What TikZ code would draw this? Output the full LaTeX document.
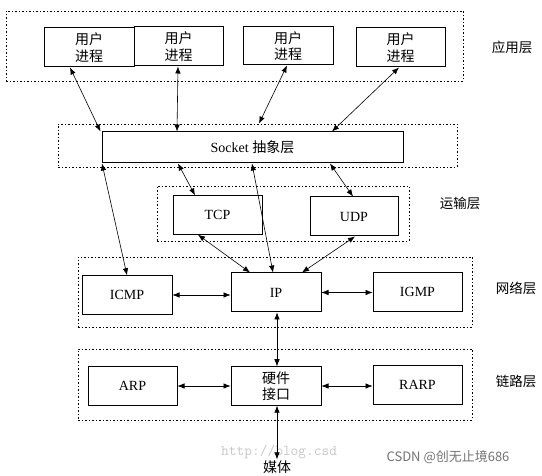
\documentclass[tikz,border=0pt]{standalone}
\usepackage{fontspec}
\setmainfont{Liberation Serif}
\newfontfamily\cjk{Noto Sans CJK SC}
\usetikzlibrary{arrows.meta}
\tikzset{
  boxnode/.style={draw, line width=1pt, minimum width=89pt, minimum height=38.5pt, inner sep=0pt, align=center, font=\fontsize{14}{16.5}\selectfont},
  layerbox/.style={draw, line width=0.9pt, dash pattern=on 1.5pt off 2pt, inner sep=0pt},
  biarrow/.style={line width=0.6pt, {Latex[length=7pt,width=5.5pt]}-{Latex[length=7pt,width=5.5pt]}},
  layerlabel/.style={font=\cjk\fontsize{13.5}{15}\selectfont},
}
\begin{document}
\begin{tikzpicture}[x=1pt,y=-1pt]
\useasboundingbox (0,0) rectangle (542,476);
% layer dotted boxes
\node[layerbox, minimum width=457pt, minimum height=70pt] (appL) at (234.5,46) {};
\node[layerbox, minimum width=399pt, minimum height=43pt] (sockL) at (257.5,145.5) {};
\node[layerbox, minimum width=252pt, minimum height=55pt] (transL) at (283,213.5) {};
\node[layerbox, minimum width=394pt, minimum height=70pt] (netL) at (275,292) {};
\node[layerbox, minimum width=394pt, minimum height=71pt] (linkL) at (275,384.5) {};
% application
\node[boxnode, minimum width=90pt, minimum height=39pt] (u1) at (89,47.5) {\cjk 用户\\\cjk 进程};
\node[boxnode, minimum height=39pt] (u2) at (178.5,46.5) {\cjk 用户\\\cjk 进程};
\node[boxnode, minimum width=90pt, minimum height=38pt] (u3) at (288,46) {\cjk 用户\\\cjk 进程};
\node[boxnode, minimum height=39pt] (u4) at (400.5,47.5) {\cjk 用户\\\cjk 进程};
% socket
\node[boxnode, minimum width=301pt, minimum height=31pt] (socket) at (252.5,147.5) {Socket {\cjk 抽象层}};
% transport
\node[boxnode] (tcp) at (217.5,215) {TCP};
\node[boxnode, minimum width=88pt, minimum height=39pt] (udp) at (354,216.5) {UDP};
% network
\node[boxnode, minimum width=90pt] (icmp) at (127,295) {ICMP};
\node[boxnode, minimum width=90pt, minimum height=39pt] (ip) at (276,292.5) {IP};
\node[boxnode] (igmp) at (417.5,292) {IGMP};
% link
\node[boxnode] (arp) at (132.5,386) {ARP};
\node[boxnode, minimum width=90pt] (hw) at (276,386) {\cjk 硬件\\\cjk 接口};
\node[boxnode] (rarp) at (417.5,385) {RARP};
\node[font=\cjk\fontsize{14}{15}\selectfont, inner sep=1pt] (media) at (277,467) {媒体};
% layer labels
\node[layerlabel] (lapp) at (512,47) {应用层};
\node[layerlabel] (ltrans) at (460,203) {运输层};
\node[layerlabel] (lnet) at (516,288) {网络层};
\node[layerlabel] (llink) at (516,381) {链路层};
% watermark
\node[font=\ttfamily\fontsize{15}{15}\selectfont, text=black!22, anchor=west, inner sep=0pt] (wm1) at (221,452) {http://blog.csd};
\node[font=\cjk\fontsize{13}{15}\selectfont, text=black!55, inner sep=0pt] (wm2) at (448,457) {CSDN @创无止境686};
% connectors
\draw[biarrow] ([xshift=-19pt]u1.south) -- ([xshift=-152pt]socket.north);
\draw[biarrow] ([xshift=-0.5pt]u2.south) -- ([xshift=-75.5pt]socket.north);
\draw[biarrow] ([xshift=-1pt]u3.south) -- ([xshift=1.5pt]sockL.north);
\draw[biarrow] ([xshift=-1.5pt]u4.south) -- ([xshift=79.5pt]socket.north);
\draw[biarrow] ([xshift=-74.5pt]socket.south) -- ([xshift=-22.5pt]tcp.north);
\draw[biarrow] ([xshift=77.5pt]socket.south) -- ([xshift=-1pt]udp.north);
\draw[biarrow] ([xshift=-0.5pt]socket.south) -- ([xshift=-3pt]ip.north);
\draw[biarrow] ([xshift=0.5pt]socket.south west) -- (icmp.north);
\draw[biarrow] ([xshift=-19.5pt]tcp.south) -- ([xshift=-26pt]ip.north);
\draw[biarrow] ([xshift=1pt]udp.south) -- ([xshift=26pt]ip.north);
\draw[biarrow] (icmp.east) -- (icmp.east -| ip.west);
\draw[biarrow] (ip.east) -- (ip.east -| igmp.west);
\draw[biarrow] (arp.east) -- (arp.east -| hw.west);
\draw[biarrow] (hw.east) -- (hw.east -| rarp.west);
\draw[biarrow] ([xshift=1pt]ip.south) -- ([xshift=1pt]hw.north);
\draw[biarrow] ([xshift=1pt]hw.south) -- (media.north);
\end{tikzpicture}
\end{document}
